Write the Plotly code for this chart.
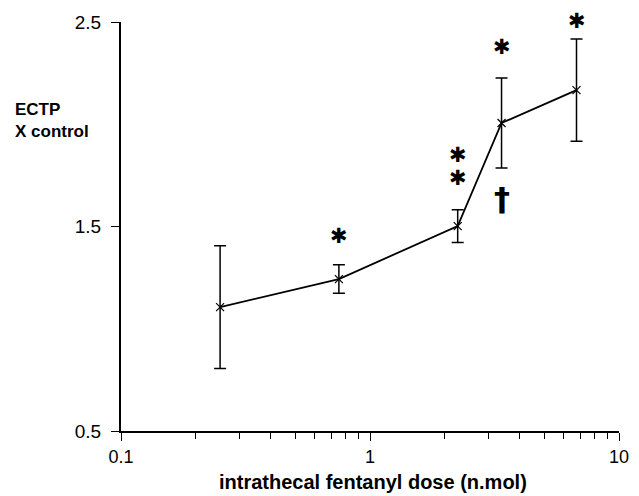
import math
import plotly.graph_objects as go

dose = [0.25, 0.75, 2.25, 3.375, 6.75]
ectp = [1.106, 1.243, 1.502, 2.006, 2.167]
err = [0.30, 0.07, 0.08, 0.22, 0.25]

x_ticks = [0.1, 1, 10]
x_tick_text = ["0.1", "1", "10"]
y_ticks = [0.5, 1.5, 2.5]
y_tick_text = ["0.5", "1.5", "2.5"]
y_range = [0.5, 2.5]

# significance marks
sig_x = [0.75, 2.25, 2.25, 3.375, 6.75, 3.375]
sig_y = [1.453, 1.85, 1.737, 2.378, 2.505, 1.634]
sig_txt = ["✱", "✱", "✱", "✱", "✱", "†"]

fig = go.Figure()
fig.add_trace(go.Scatter(
    x=dose, y=ectp, mode="lines+markers",
    line=dict(color="black", width=1.8),
    marker=dict(symbol="x-thin", size=8, line=dict(color="black", width=1.2)),
    error_y=dict(type="data", array=err, visible=True, color="black", thickness=1.5, width=6),
    showlegend=False,
))

for x, y, t in zip(sig_x, sig_y, sig_txt):
    yp = (y - y_range[0]) / (y_range[1] - y_range[0])
    if t == "†":
        fig.add_annotation(x=math.log10(x), y=yp, xref="x", yref="paper", text="<b>†</b>",
                           showarrow=False, borderpad=0,
                           font=dict(family="DejaVu Sans", size=32, color="black"),
                           xanchor="center", yanchor="middle")
    else:
        fig.add_annotation(x=math.log10(x), y=yp, xref="x", yref="paper", text=t,
                           showarrow=False, borderpad=0,
                           font=dict(family="DejaVu Sans", size=21, color="black"),
                           xanchor="center", yanchor="middle")

fig.add_annotation(x=-108 / 498, y=0.76, xref="paper", yref="paper", align="left",
                   text="<b>ECTP<br>X control</b>", showarrow=False,
                   font=dict(family="Liberation Sans", size=17, color="black"),
                   xanchor="left", yanchor="middle")

fig.add_annotation(x=0.506, y=-0.1247, xref="paper", yref="paper",
                   text="<b>intrathecal fentanyl dose (n.mol)</b>", showarrow=False,
                   borderpad=0,
                   font=dict(family="Liberation Sans", size=20, color="black"),
                   xanchor="center", yanchor="middle")

minor_vals = [0.2, 0.3, 0.4, 0.5, 0.6, 0.7, 0.8, 0.9, 2, 3, 4, 5, 6, 7, 8, 9]

fig.update_layout(
    width=623, height=488,
    margin=dict(l=113, r=12, t=14, b=65),
    paper_bgcolor="white", plot_bgcolor="white",
    font=dict(family="Liberation Sans", size=19, color="black"),
    xaxis=dict(
        type="log", range=[-1, 1], showgrid=False, zeroline=False, automargin=False,
        showline=True, linecolor="black", linewidth=2,
        tickvals=x_ticks, ticktext=x_tick_text, ticks="outside", ticklen=8,
        tickwidth=1.2, tickcolor="black", ticklabelstandoff=0,
        tickfont=dict(size=18),
        minor=dict(tickvals=minor_vals, ticks="outside", ticklen=6, tickwidth=1.2,
                   tickcolor="black", showgrid=False),
    ),
    yaxis=dict(
        range=y_range, showgrid=False, zeroline=False, automargin=False,
        showline=True, linecolor="black", linewidth=2,
        tickvals=y_ticks, ticktext=y_tick_text, ticks="outside", ticklen=8,
        tickwidth=1.2, tickcolor="black", ticklabelstandoff=6,
    ),
)

fig.write_html("out.html")
